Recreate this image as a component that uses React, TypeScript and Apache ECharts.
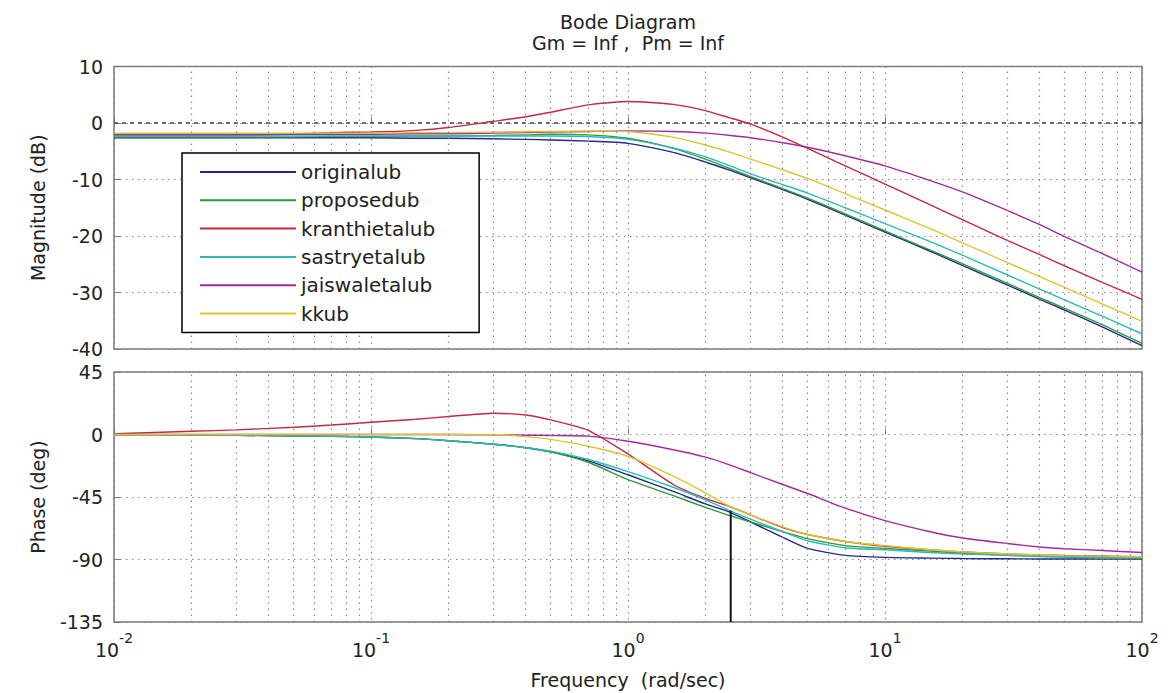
import React, { useEffect, useRef } from "react";
import * as echarts from "echarts";

// ---------- data ----------
const FREQ = [0.01, 0.02, 0.03, 0.05, 0.07, 0.1, 0.15, 0.2, 0.3, 0.4, 0.5, 0.7, 1, 1.5, 2, 2.5, 3, 4, 5, 7, 10, 15, 20, 30, 40, 50, 70, 100];

const SERIES_NAMES = ["originalub", "proposedub", "kranthietalub", "sastryetalub", "jaiswaletalub", "kkub"];
const SERIES_COLORS = ["#1f2a8c", "#2e9a3e", "#c42a3a", "#2fb8b8", "#a22a9c", "#dcc62e"];

const MAG_ORIGINAL = [-2.6, -2.6, -2.6, -2.6, -2.6, -2.6, -2.7, -2.7, -2.8, -2.9, -3.0, -3.2, -3.6, -5.2, -6.9, -8.4, -9.7, -11.8, -13.5, -16.3, -19.3, -22.7, -25.2, -28.7, -31.2, -33.1, -36.1, -39.4];
const MAG_PROPOSED = [-2.5, -2.5, -2.5, -2.5, -2.4, -2.4, -2.3, -2.3, -2.2, -2.1, -2.0, -2.1, -2.7, -4.5, -6.4, -8.1, -9.5, -11.6, -13.3, -16.1, -19.1, -22.5, -24.9, -28.4, -30.9, -32.8, -35.7, -39.0];
const MAG_KRANTHI = [-2.2, -2.2, -2.2, -2.0, -1.7, -1.6, -1.3, -0.8, 0.3, 1.1, 1.9, 3.2, 3.8, 3.3, 2.2, 0.9, -0.2, -2.5, -4.5, -7.6, -10.8, -14.5, -17.1, -20.8, -23.3, -25.3, -28.2, -31.2];
const MAG_SASTRY = [-2.3, -2.3, -2.3, -2.3, -2.3, -2.3, -2.3, -2.3, -2.3, -2.3, -2.3, -2.4, -2.9, -4.4, -6.0, -7.6, -9.0, -10.9, -12.4, -15.0, -17.8, -21.0, -23.4, -26.9, -29.4, -31.3, -34.2, -37.3];
const MAG_JAISWAL = [-2.0, -2.0, -2.0, -2.0, -2.0, -2.0, -1.9, -1.9, -1.8, -1.7, -1.6, -1.5, -1.4, -1.5, -1.8, -2.2, -2.6, -3.5, -4.3, -5.8, -7.6, -10.2, -12.2, -15.5, -18.0, -20.1, -23.1, -26.4];
const MAG_KK = [-1.8, -1.8, -1.8, -1.8, -1.8, -1.8, -1.7, -1.7, -1.6, -1.5, -1.5, -1.4, -1.5, -2.5, -3.9, -5.2, -6.4, -8.3, -9.8, -12.5, -15.4, -18.7, -21.2, -24.7, -27.2, -29.1, -32.0, -35.1];

const PH_ORIGINAL = [0, -0.2, -0.5, -1.0, -1.3, -1.8, -3.0, -4.5, -7.0, -9.5, -12.5, -19, -29, -41, -50, -56, -63, -74, -82, -87, -88.5, -89, -89.3, -89.5, -89.6, -89.6, -89.7, -89.7];
const PH_PROPOSED = [0, -0.2, -0.5, -1.0, -1.3, -1.8, -3.0, -4.5, -7.0, -9.5, -12.5, -20, -32.5, -44, -52.5, -58.5, -63, -70, -75, -80, -82, -84, -85.5, -87, -87.8, -88.2, -88.7, -89];
const PH_KRANTHI = [0.5, 2.3, 3.3, 5.2, 6.8, 8.8, 11, 13, 15.3, 14, 10.5, 3, -14, -36, -46, -52, -58, -67, -72, -77, -80.5, -83, -84.5, -86, -86.7, -87.1, -87.5, -88];
const PH_SASTRY = [0, -0.2, -0.5, -1.0, -1.3, -1.8, -3.0, -4.5, -7.0, -9.5, -12, -18, -26.7, -38, -47, -55, -61, -70, -76.5, -81.5, -83, -85, -86, -87, -87.6, -88, -88.3, -88.6];
const PH_JAISWAL = [0, 0, 0, 0, 0, 0, 0, 0, -0.3, -0.5, -0.7, -1.2, -4.9, -11, -16.3, -22, -27.5, -36, -42.5, -53, -62, -70, -74.5, -78.5, -81, -82.3, -83.5, -85];
const PH_KK = [0, 0, 0, 0, 0, 0, 0, 0, 0, -1.5, -3.5, -8.5, -15.8, -30, -42, -52, -58, -66.5, -72, -77, -80, -83, -84.5, -86, -86.8, -87.2, -87.6, -88];

const MAG_SETS = [MAG_ORIGINAL, MAG_PROPOSED, MAG_KRANTHI, MAG_SASTRY, MAG_JAISWAL, MAG_KK];
const PH_SETS = [PH_ORIGINAL, PH_PROPOSED, PH_KRANTHI, PH_SASTRY, PH_JAISWAL, PH_KK];

// vertical marker in the phase plot
const MARKER_FREQ = [2.51, 2.51];
const MARKER_PHASE = [-55, -135];

// 0 dB reference line
const ZERO_FREQ = [0.01, 100];
const ZERO_DB = [0, 0];

// axis ranges / ticks
const FREQ_DECADES = [0.01, 0.1, 1, 10, 100];
const MINOR_MULT = [2, 3, 4, 5, 6, 7, 8, 9];
const MAG_TICKS = [-40, -30, -20, -10, 0, 10];
const PHASE_TICKS = [-135, -90, -45, 0, 45];

const TITLE_LINES = ["Bode Diagram", "Gm = Inf ,  Pm = Inf"];

const FONT = "DejaVu Sans";
const TEXT_COLOR = "#222";
const BOX_COLOR = "#7a7a7a";
const GRID_DOT = { color: "#8a8a8a", width: 1.2, type: [1.5, 4.5] as any };

export default function App() {
  const ref = useRef<HTMLDivElement>(null);

  useEffect(() => {
    if (!ref.current) return;
    const chart = echarts.init(ref.current, undefined, { renderer: "svg" });

    const minorFreqs: number[] = [];
    FREQ_DECADES.slice(0, -1).forEach((d) => MINOR_MULT.forEach((m) => minorFreqs.push(d * m)));

    const zip = (xs: number[], ys: number[]) => xs.map((x, i) => [x, ys[i]]);

    const gridLeft = 114;
    const gridWidth = 1028;

    const xAxisBase = (gi: number, showLabels: boolean) => ({
      type: "log" as const,
      gridIndex: gi,
      logBase: 10,
      min: FREQ_DECADES[0],
      max: FREQ_DECADES[FREQ_DECADES.length - 1],
      axisLine: { show: false },
      axisTick: { show: true, inside: true, length: 6, lineStyle: { color: BOX_COLOR } },
      splitLine: { show: true, lineStyle: GRID_DOT },
      axisLabel: showLabels
        ? {
            show: true,
            margin: 9,
            color: TEXT_COLOR,
            fontFamily: FONT,
            formatter: (v: number) => `{b|10}{s|${Math.round(Math.log10(v))}}`,
            rich: {
              b: { fontSize: 19, fontFamily: FONT, color: TEXT_COLOR, lineHeight: 28, verticalAlign: "bottom" },
              s: { fontSize: 14, fontFamily: FONT, color: TEXT_COLOR, lineHeight: 16, verticalAlign: "top" },
            },
          }
        : { show: false },
      name: showLabels ? "Frequency  (rad/sec)" : "",
      nameLocation: "middle" as const,
      nameGap: 48,
      nameTextStyle: { fontSize: 19, fontFamily: FONT, color: TEXT_COLOR },
    });

    const yAxisBase = (gi: number, ticks: number[], name: string) => ({
      type: "value" as const,
      gridIndex: gi,
      min: ticks[0],
      max: ticks[ticks.length - 1],
      interval: ticks[1] - ticks[0],
      axisLine: { show: false },
      axisTick: { show: true, inside: true, length: 6, lineStyle: { color: BOX_COLOR } },
      splitLine: { show: true, lineStyle: GRID_DOT },
      axisLabel: { margin: 11, fontSize: 19, fontFamily: FONT, color: TEXT_COLOR },
      name,
      nameLocation: "middle" as const,
      nameRotate: 90,
      nameGap: 67,
      nameTextStyle: { fontSize: 19, fontFamily: FONT, color: TEXT_COLOR },
    });

    const curveSeries: any[] = [];
    SERIES_NAMES.forEach((name, i) => {
      curveSeries.push({
        name,
        type: "line",
        xAxisIndex: 0,
        yAxisIndex: 0,
        data: zip(FREQ, MAG_SETS[i]),
        symbol: "none",
        smooth: 0.2,
        lineStyle: { color: SERIES_COLORS[i], width: 1.4 },
        itemStyle: { color: SERIES_COLORS[i] },
        z: 3,
      });
      curveSeries.push({
        name,
        type: "line",
        xAxisIndex: 1,
        yAxisIndex: 1,
        data: zip(FREQ, PH_SETS[i]),
        symbol: "none",
        smooth: 0.2,
        lineStyle: { color: SERIES_COLORS[i], width: 1.4 },
        itemStyle: { color: SERIES_COLORS[i] },
        z: 3,
      });
    });

    const minorGridSeries = (gi: number) => ({
      type: "line",
      xAxisIndex: gi,
      yAxisIndex: gi,
      data: [],
      silent: true,
      markLine: {
        silent: true,
        symbol: "none",
        label: { show: false },
        lineStyle: GRID_DOT,
        data: minorFreqs.map((f) => ({ xAxis: f })),
      },
      z: 1,
    });

    const option: any = {
      animation: false,
      backgroundColor: "#ffffff",
      textStyle: { fontFamily: FONT },
      graphic: [
        {
          type: "text",
          x: gridLeft + gridWidth / 2,
          y: 12,
          style: { text: TITLE_LINES[0], fill: TEXT_COLOR, font: `19px "${FONT}"`, textAlign: "center" },
        },
        {
          type: "text",
          x: gridLeft + gridWidth / 2,
          y: 33,
          style: { text: TITLE_LINES[1], fill: TEXT_COLOR, font: `19px "${FONT}"`, textAlign: "center" },
        },
      ],
      grid: [
        { left: gridLeft, width: gridWidth, top: 66.5, height: 282.5, show: true, borderColor: BOX_COLOR, borderWidth: 1.5, backgroundColor: "#fff" },
        { left: gridLeft, width: gridWidth, top: 372, height: 250, show: true, borderColor: BOX_COLOR, borderWidth: 1.5, backgroundColor: "#fff" },
      ],
      xAxis: [xAxisBase(0, false), xAxisBase(1, true)],
      yAxis: [yAxisBase(0, MAG_TICKS, "Magnitude (dB)"), yAxisBase(1, PHASE_TICKS, "Phase (deg)")],
      legend: {
        data: SERIES_NAMES,
        orient: "vertical",
        left: 182,
        top: 153,
        padding: [9, 44, 9, 18],
        itemGap: 8.3,
        itemWidth: 96,
        itemHeight: 2,
        icon: "rect",
        backgroundColor: "#fff",
        borderColor: "#000",
        borderWidth: 1.5,
        borderRadius: 0,
        selectedMode: false,
        textStyle: { fontSize: 20, lineHeight: 20, fontFamily: FONT, color: TEXT_COLOR },
        z: 10,
      },
      series: [
        minorGridSeries(0),
        minorGridSeries(1),
        {
          type: "line",
          xAxisIndex: 0,
          yAxisIndex: 0,
          data: zip(ZERO_FREQ, ZERO_DB),
          symbol: "none",
          silent: true,
          lineStyle: { color: "#444", width: 1.3, type: [4, 4] },
          z: 2,
        },
        ...curveSeries,
        {
          type: "line",
          xAxisIndex: 1,
          yAxisIndex: 1,
          data: zip(MARKER_FREQ, MARKER_PHASE),
          symbol: "none",
          silent: true,
          lineStyle: { color: "#111", width: 2 },
          z: 4,
        },
      ],
    };

    chart.setOption(option);
    return () => chart.dispose();
  }, []);

  return (
    <div
      ref={ref}
      style={{ position: "absolute", left: 0, top: 0, width: 1168, height: 693, background: "#fff" }}
    />
  );
}
